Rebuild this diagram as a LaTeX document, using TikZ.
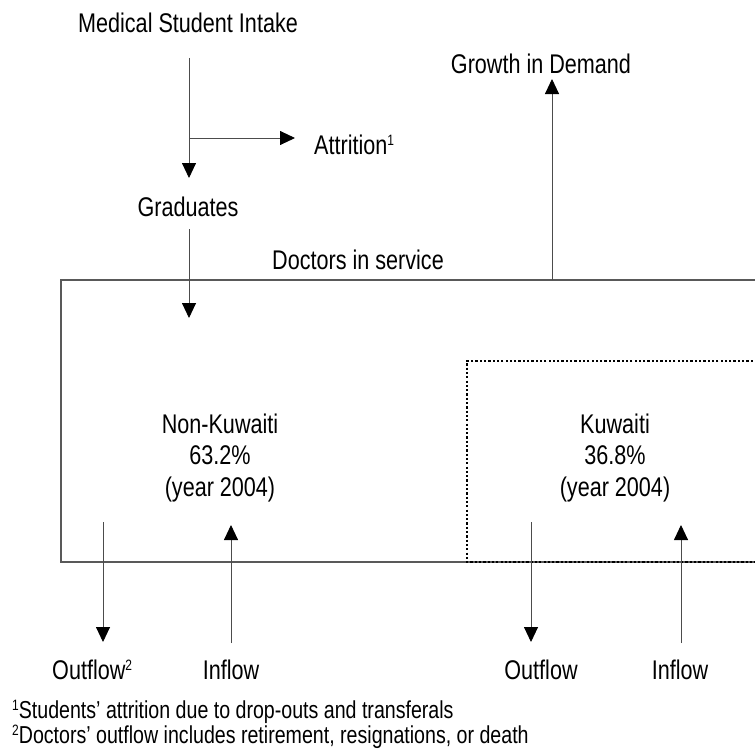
\documentclass[tikz,border=0pt]{standalone}
\usepackage{fontspec}
\setmainfont{Liberation Sans}[FakeStretch=0.8]
\usetikzlibrary{arrows.meta}
\newcommand{\fnmark}[1]{\raisebox{0.35em}{\fontsize{15}{15}\selectfont #1}}
\begin{document}
\begin{tikzpicture}[x=1pt, y=-1pt, line cap=butt, line join=miter,
	font=\fontsize{27}{31.5}\selectfont,
	txt/.style={inner sep=0pt, align=center},
	note/.style={inner sep=0pt, anchor=west, font=\fontsize{24.5}{25}\selectfont},
	flow/.style={draw=black!70, line width=0.9pt, -{Triangle[length=15pt,width=14pt,black]}},
	frame/.style={draw=black!65, line width=1.4pt},
	dots/.style={draw=black, line width=2.4pt, dash pattern=on 2.2pt off 2.1pt}]
	\useasboundingbox (0,0) rectangle (755,752);
	% boxes
	\draw[frame] (61,280) rectangle (770,562);
	\draw[dots] (770,361) -- (467,361) -- (467,562) -- (770,562);
	% labels
	\node[txt] (intake) at (188,23) {Medical Student Intake};
	\node[txt, anchor=west] (attr) at (314,145) {Attrition\fnmark{1}};
	\node[txt] (grad) at (188,207) {Graduates};
	\node[txt] (service) at (358,260) {Doctors in service};
	\node[txt] (growth) at (541,64) {Growth in Demand};
	\node[txt] (nonkw) at (220,458) {Non-Kuwaiti\\63.2\%\\(year 2004)};
	\node[txt] (kw) at (615,458) {Kuwaiti\\36.8\%\\(year 2004)};
	\node[txt, anchor=west] (outL) at (52,670) {Outflow\fnmark{2}};
	\node[txt] (inL) at (231,670) {Inflow};
	\node[txt] (outR) at (541,670) {Outflow};
	\node[txt] (inR) at (680,670) {Inflow};
	\node[note] (note1) at (12,712) {\fnmark{1}Students’ attrition due to drop-outs and transferals};
	\node[note] (note2) at (12,737) {\fnmark{2}Doctors’ outflow includes retirement, resignations, or death};
	% connectors
	\coordinate (split) at (189,138);
	\coordinate (gradin) at (189,318);
	\coordinate (grow0) at (552,280);
	\coordinate (oL0) at (103,522);
	\coordinate (iL1) at (231,525);
	\coordinate (oR0) at (531,522);
	\coordinate (iR1) at (681,525);
	\draw[flow, shorten <=35pt, shorten >=29pt] (intake.center -| split) -- (grad.center -| split);
	\draw[flow, shorten >=19pt] (split) -- (split -| attr.west);
	\draw[flow, shorten <=11pt] (grad.center -| gradin) ++(0,11) -- (gradin);
	\draw[flow, shorten >=15pt] (grow0) -- (grow0 |- growth.center);
	\draw[flow, shorten >=28pt] (oL0) -- (oL0 |- outL.center);
	\draw[flow, shorten <=27pt] (iL1 |- inL.center) -- (iL1);
	\draw[flow, shorten >=28pt] (oR0) -- (oR0 |- outR.center);
	\draw[flow, shorten <=27pt] (iR1 |- inR.center) -- (iR1);
\end{tikzpicture}
\end{document}
